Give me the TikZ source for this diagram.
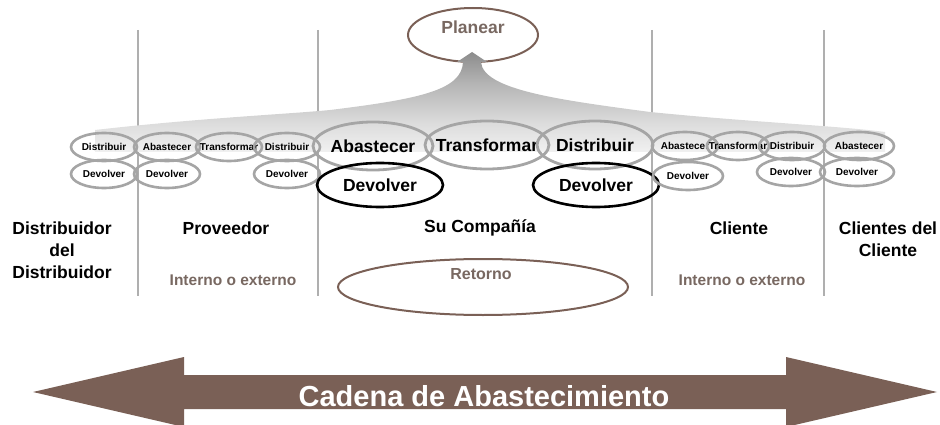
\documentclass[tikz,border=0pt]{standalone}
\usepackage{fontspec}
\setmainfont{Liberation Sans}
\usetikzlibrary{shapes.geometric}
\definecolor{cafe}{RGB}{122,96,86}
\definecolor{cafetxt}{RGB}{120,104,97}
\definecolor{gris}{RGB}{165,165,165}
\definecolor{linea}{RGB}{175,175,175}
\newcommand{\cen}[1]{\makebox[0pt]{#1}}
\pgfdeclareverticalshading{abanico}{100bp}{color(0bp)=(white); color(15bp)=(white);
  color(40bp)=(black!14); color(60bp)=(black!30); color(85bp)=(black!55); color(100bp)=(black!72)}
\begin{document}
\begin{tikzpicture}[x=1pt, y=-1pt,
    chico/.style={ellipse, draw=gris, line width=2.6pt, minimum width=66pt, minimum height=28pt, inner sep=0pt, font=\bfseries\fontsize{10}{12}\selectfont},
    grande/.style={ellipse, draw=gris, line width=2.8pt, minimum width=120pt, minimum height=48pt, inner sep=0pt, font=\bfseries\fontsize{17.5}{20}\selectfont},
    negro/.style={ellipse, draw=black, line width=2.6pt, minimum width=126pt, minimum height=44pt, inner sep=0pt, font=\bfseries\fontsize{17.5}{20}\selectfont},
    etapa/.style={font=\bfseries\fontsize{17.5}{22}\selectfont, align=center},
    tipo/.style={font=\bfseries\fontsize{15.5}{18}\selectfont, text=cafetxt}]
  \useasboundingbox (0,0) rectangle (940,425);
  % separadores
  \foreach \x in {138,318,652,824}
    \draw[linea, line width=1.3pt] (\x,30) -- (\x,296);
  % planear
  \node[ellipse, draw=cafe, line width=2pt, minimum width=130pt, minimum height=54pt] (planear) at (473,35) {};
  \node[font=\bfseries\fontsize{17.5}{20}\selectfont, text=cafetxt] (planeartxt) at (473,27) {Planear};
  \shade[shading=abanico]
    (472,52) -- (487,62) -- (481,62) .. controls (483,90) and (560,100) .. (650,112)
    .. controls (750,122) and (840,126) .. (885,132) -- (885,152) -- (95,152) -- (95,130)
    .. controls (200,118) and (290,114) .. (330,110) .. controls (420,99) and (462,90) .. (463,62)
    -- (457,62) -- cycle;
  % lado izquierdo
  \node[chico] (dist1) at (104,147) {\cen{Distribuir}};
  \node[chico] (abas1) at (167,147) {\cen{Abastecer}};
  \node[chico] (trans1) at (229,147) {\cen{Transformar}};
  \node[chico] (dist2) at (287,147) {\cen{Distribuir}};
  \node[chico] (dev1) at (104,174) {\cen{Devolver}};
  \node[chico] (dev2) at (167,174) {\cen{Devolver}};
  \node[chico] (dev3) at (287,174) {\cen{Devolver}};
  % su compania
  \node[grande] (abas2) at (373,146) {\cen{Abastecer}};
  \node[grande, minimum width=124pt] (trans2) at (487,145) {\cen{Transformar}};
  \node[grande, minimum width=116pt] (dist3) at (595,145) {\cen{Distribuir}};
  \node[negro] (dev4) at (380,185) {\cen{Devolver}};
  \node[negro] (dev5) at (596,185) {\cen{Devolver}};
  % lado derecho
  \node[chico] (abas3) at (685,146) {\cen{Abastecer}};
  \node[chico, minimum width=62pt] (trans3) at (738,146) {\cen{Transformar}};
  \node[chico] (dist4) at (792,146) {\cen{Distribuir}};
  \node[chico, minimum width=70pt] (abas4) at (859,146) {\cen{Abastecer}};
  \node[chico, minimum width=70pt] (dev6) at (688,176) {\cen{Devolver}};
  \node[chico, minimum width=68pt] (dev7) at (791,172) {\cen{Devolver}};
  \node[chico, minimum width=74pt] (dev8) at (857,172) {\cen{Devolver}};
  % etapas
  \node[etapa] (distdist) at (62,250) {Distribuidor\\del\\Distribuidor};
  \node[etapa] (prov) at (226,228) {Proveedor};
  \node[etapa] (compania) at (480,228) {Su Compañía};
  \node[etapa] (cliente) at (739,228) {Cliente};
  \node[etapa] (clicli) at (888,239) {Clientes del\\Cliente};
  \node[tipo] (provtipo) at (233,280) {Interno o externo};
  \node[tipo] (clitipo) at (742,280) {Interno o externo};
  % retorno
  \node[ellipse, draw=cafe, line width=2pt, minimum width=290pt, minimum height=56pt] (retorno) at (483,287) {};
  \node[font=\bfseries\fontsize{16}{20}\selectfont, text=cafetxt] (retornotxt) at (481,274) {Retorno};
  % cadena
  \fill[cafe] (33,392) -- (184,357) -- (184,375) -- (786,375) -- (786,357) -- (937,392)
    -- (786,427) -- (786,409) -- (184,409) -- (184,427) -- cycle;
  \node[font=\bfseries\fontsize{29}{32}\selectfont, text=white] (cadena) at (484,396) {Cadena de Abastecimiento};
\end{tikzpicture}
\end{document}
